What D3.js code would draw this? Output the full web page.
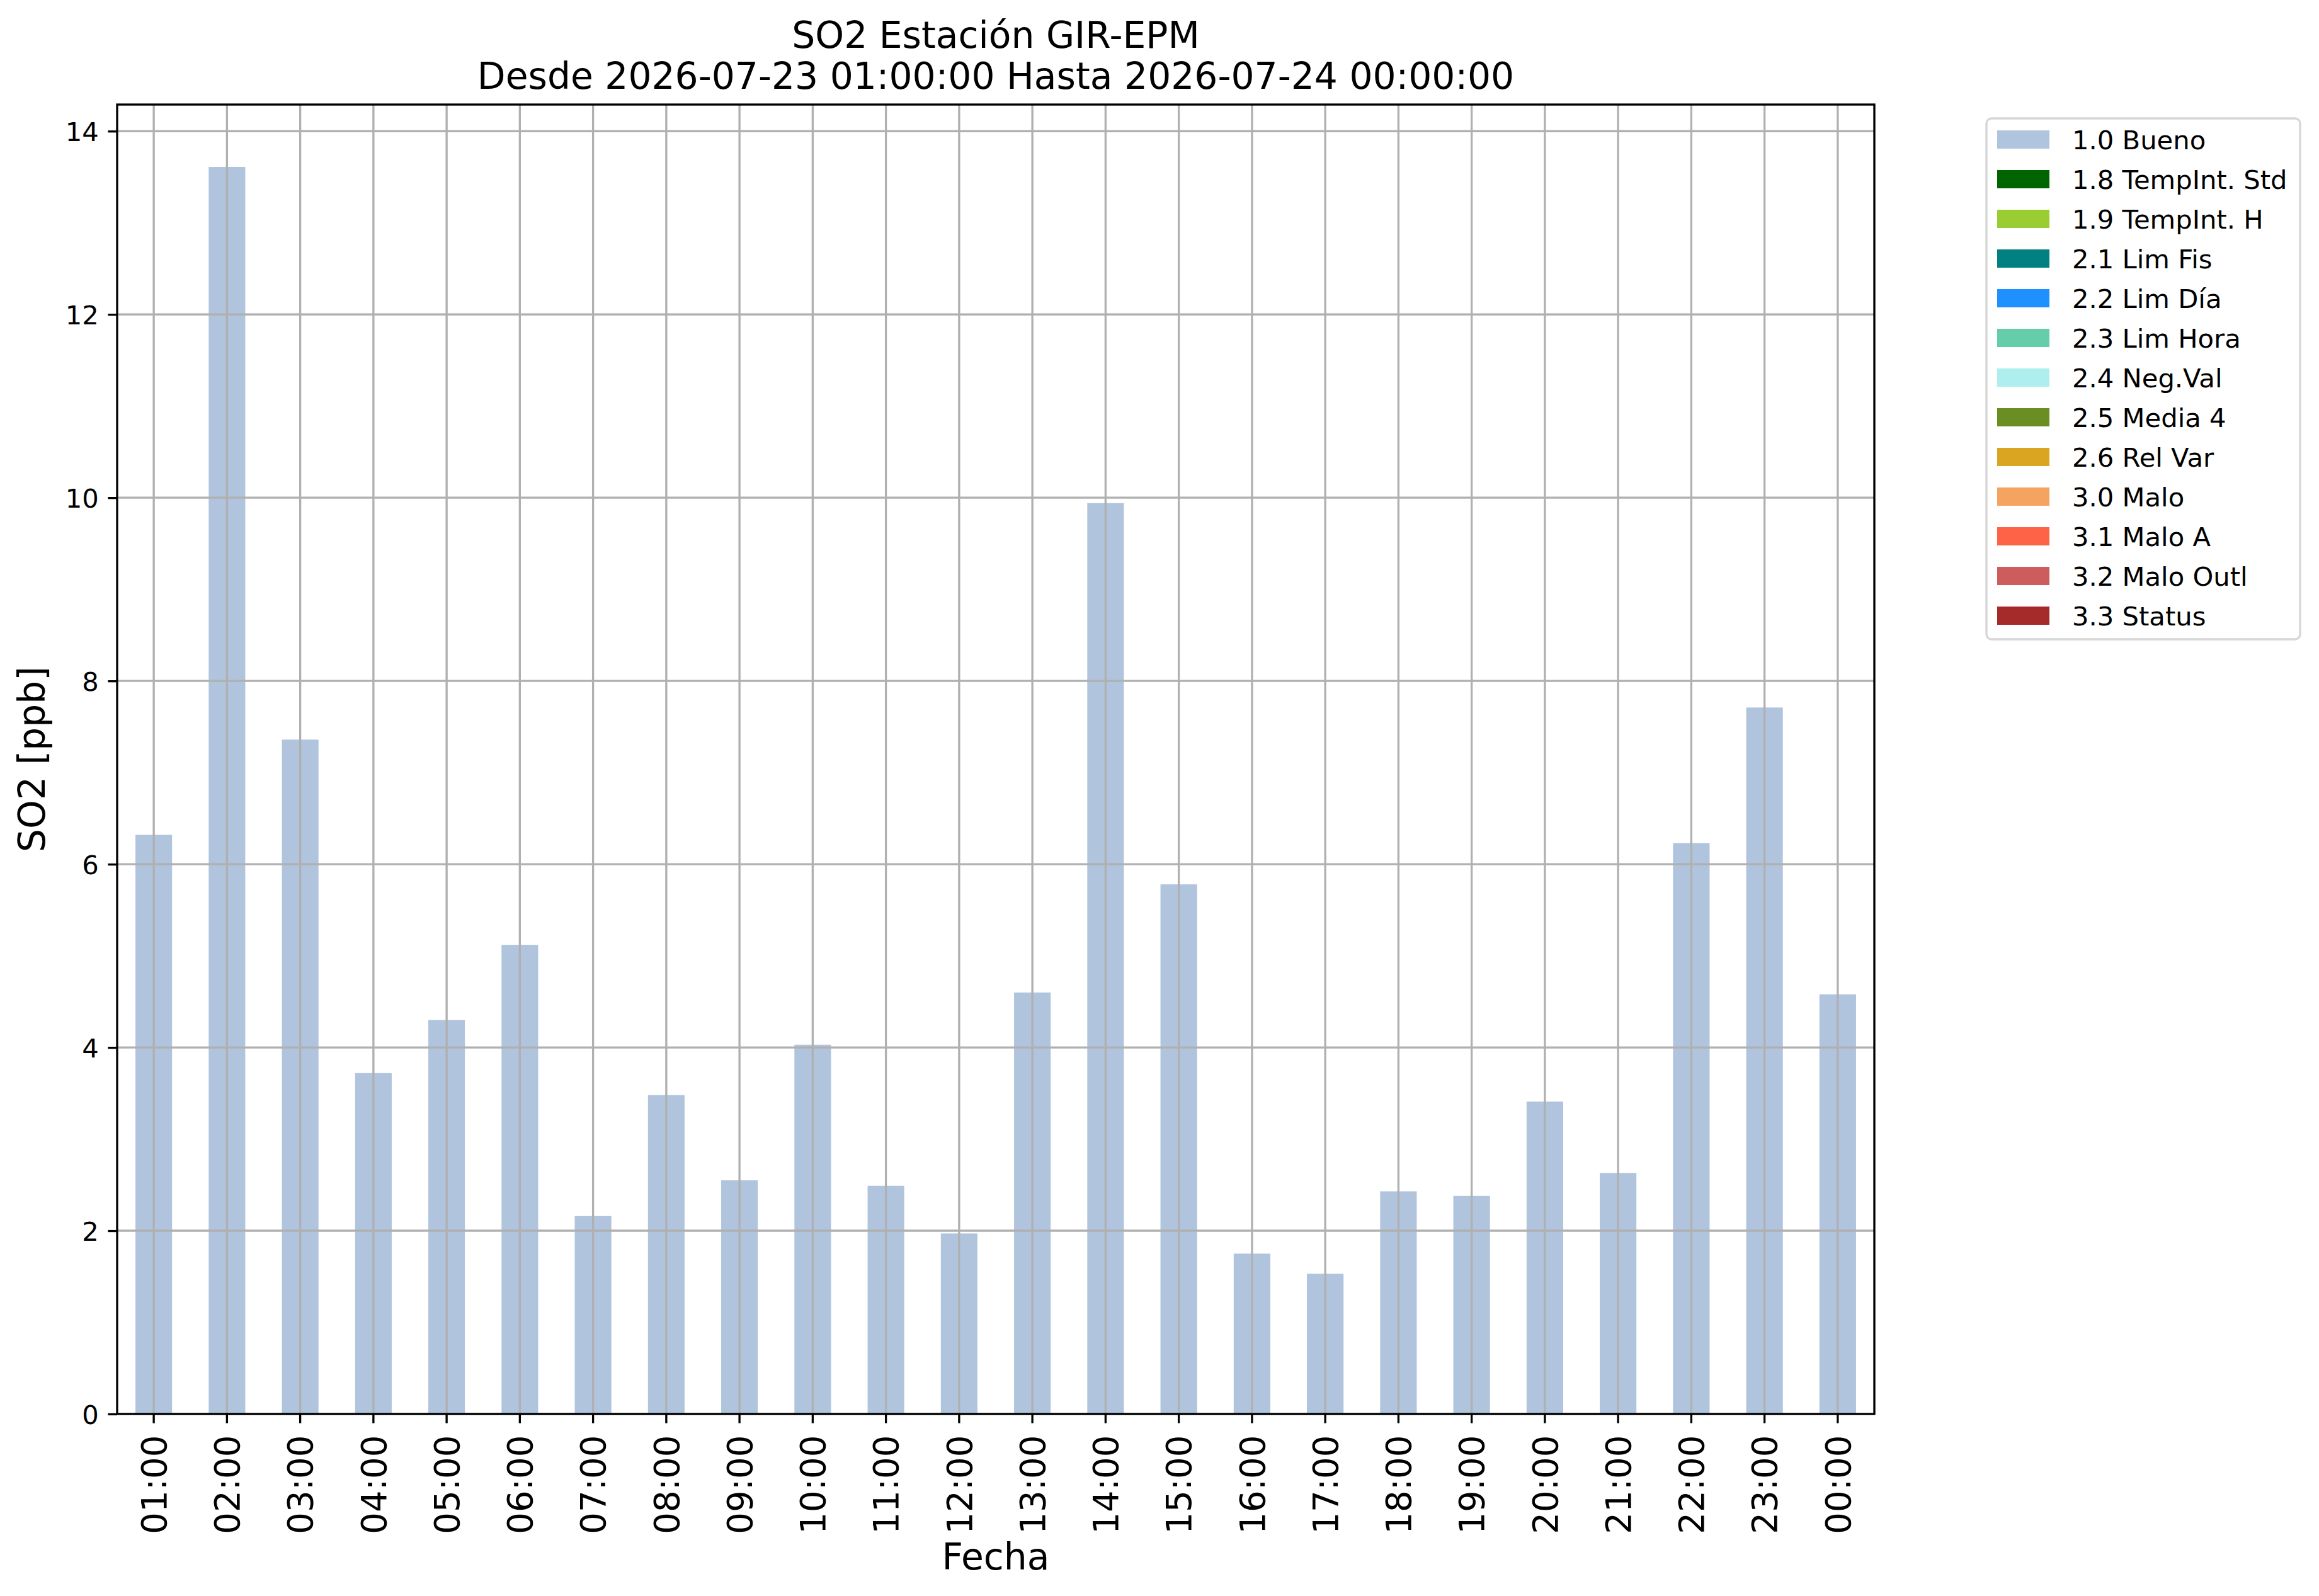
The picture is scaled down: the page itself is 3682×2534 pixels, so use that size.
<!DOCTYPE html>
<html>
<head>
<meta charset="utf-8">
<script src="https://cdn.jsdelivr.net/npm/d3@7"></script>
<style>
    body { margin: 0; background: #ffffff; }
    svg { display: block; font-family: "DejaVu Sans", sans-serif; }
</style>
</head>
<body>
<div id="chart"></div>
<script>
// hourly SO2 readings, one bar per hour
var hours = ["01:00", "02:00", "03:00", "04:00", "05:00", "06:00", "07:00", "08:00",
             "09:00", "10:00", "11:00", "12:00", "13:00", "14:00", "15:00", "16:00",
             "17:00", "18:00", "19:00", "20:00", "21:00", "22:00", "23:00", "00:00"];
var so2Values = [6.32, 13.61, 7.36, 3.72, 4.30, 5.12, 2.16, 3.48,
                 2.55, 4.03, 2.49, 1.97, 4.60, 9.94, 5.78, 1.75,
                 1.53, 2.43, 2.38, 3.41, 2.63, 6.23, 7.71, 4.58];
var yTicks = [0, 2, 4, 6, 8, 10, 12, 14];

// quality flags shown in the legend
var legendLabels = ["1.0 Bueno", "1.8 TempInt. Std", "1.9 TempInt. H", "2.1 Lim Fis",
                    "2.2 Lim Día", "2.3 Lim Hora", "2.4 Neg.Val", "2.5 Media 4",
                    "2.6 Rel Var", "3.0 Malo", "3.1 Malo A", "3.2 Malo Outl", "3.3 Status"];
var legendColors = ["#b0c4de", "#006400", "#9acd32", "#008080", "#1e90ff", "#66cdaa",
                    "#afeeee", "#6b8e23", "#daa520", "#f4a460", "#ff6347", "#cd5c5c", "#a52a2a"];

var titleLines = ["SO2 Estación GIR-EPM", "Desde 2026-07-23 01:00:00 Hasta 2026-07-24 00:00:00"];

var width = 3682, height = 2534;
var plot = {left: 186, right: 2976, top: 166, bottom: 2245};
var lw = 3.33;      // 0.8pt at 300dpi
var tickLen = 14.6;
var small = 41.7, big = 58.3, xTickSize = 54.5;
var gridColor = "#b0b0b0";

var svg = d3.select("#chart").append("svg")
    .attr("width", width)
    .attr("height", height);

var x = d3.scaleBand()
    .domain(hours)
    .range([plot.left, plot.right])
    .paddingInner(0.5)
    .paddingOuter(0.25);

var y = d3.scaleLinear()
    .domain([0, d3.max(so2Values) * 1.05])
    .range([plot.bottom, plot.top]);

var rows = hours.map(function(h, i) { return {hour: h, value: so2Values[i]}; });

//bars
svg.append("g")
    .selectAll("rect")
    .data(rows)
    .enter().append("rect")
    .attr("x", function(d) { return x(d.hour); })
    .attr("y", function(d) { return y(d.value); })
    .attr("width", x.bandwidth())
    .attr("height", function(d) { return y(0) - y(d.value); })
    .attr("fill", legendColors[0]);

//grid drawn over the bars like the original
var grid = svg.append("g").attr("stroke", gridColor).attr("stroke-width", lw);
grid.selectAll(".vgrid")
    .data(hours)
    .enter().append("line")
    .attr("x1", function(d) { return x(d) + x.bandwidth() / 2; })
    .attr("x2", function(d) { return x(d) + x.bandwidth() / 2; })
    .attr("y1", plot.top)
    .attr("y2", plot.bottom);
grid.selectAll(".hgrid")
    .data(yTicks)
    .enter().append("line")
    .attr("x1", plot.left)
    .attr("x2", plot.right)
    .attr("y1", function(d) { return y(d); })
    .attr("y2", function(d) { return y(d); });

//axes
var xAxis = svg.append("g")
    .attr("transform", "translate(0," + plot.bottom + ")")
    .call(d3.axisBottom(x).tickSize(tickLen).tickSizeOuter(0));
xAxis.select(".domain").remove();
xAxis.selectAll("line").attr("stroke", "#000").attr("stroke-width", lw);
xAxis.selectAll("text")
    .attr("font-size", xTickSize)
    .attr("font-family", "DejaVu Sans")
    .attr("fill", "#000")
    .attr("text-anchor", "end")
    .attr("x", 0)
    .attr("y", 0)
    .attr("dy", "0.36em")
    .attr("transform", "translate(0," + (tickLen + 19) + ") rotate(-90)");

var yAxis = svg.append("g")
    .attr("transform", "translate(" + plot.left + ",0)")
    .call(d3.axisLeft(y).tickValues(yTicks).tickFormat(d3.format("d"))
        .tickSize(tickLen).tickPadding(tickLen).tickSizeOuter(0));
yAxis.select(".domain").remove();
yAxis.selectAll("line").attr("stroke", "#000").attr("stroke-width", lw);
yAxis.selectAll("text")
    .attr("font-size", small)
    .attr("font-family", "DejaVu Sans")
    .attr("fill", "#000")
    .attr("dy", "0.36em");

//frame
svg.append("rect")
    .attr("x", plot.left)
    .attr("y", plot.top)
    .attr("width", plot.right - plot.left)
    .attr("height", plot.bottom - plot.top)
    .attr("fill", "none")
    .attr("stroke", "#000")
    .attr("stroke-width", lw);

//titles and labels
var midX = (plot.left + plot.right) / 2;
svg.selectAll(".title")
    .data(titleLines)
    .enter().append("text")
    .attr("x", midX)
    .attr("y", function(d, i) { return 76 + i * 65; })
    .attr("text-anchor", "middle")
    .attr("font-size", big)
    .text(function(d) { return d; });

svg.append("text")
    .attr("x", midX)
    .attr("y", 2492)
    .attr("text-anchor", "middle")
    .attr("font-size", big)
    .text("Fecha");

svg.append("text")
    .attr("transform", "translate(71," + ((plot.top + plot.bottom) / 2) + ") rotate(-90)")
    .attr("text-anchor", "middle")
    .attr("font-size", big)
    .text("SO2 [ppb]");

//legend
var legend = svg.append("g").attr("transform", "translate(3154,188)");
legend.append("rect")
    .attr("width", 498)
    .attr("height", 827)
    .attr("rx", 8)
    .attr("fill", "#fff")
    .attr("stroke", "#d6d6d6")
    .attr("stroke-width", lw);

var item = legend.selectAll(".item")
    .data(legendLabels)
    .enter().append("g")
    .attr("transform", function(d, i) { return "translate(0," + (19 + i * 63) + ")"; });
item.append("rect")
    .attr("x", 17)
    .attr("width", 83)
    .attr("height", 29)
    .attr("fill", function(d, i) { return legendColors[i]; });
item.append("text")
    .attr("x", 136)
    .attr("y", 14.5 + 15.5)
    .attr("font-size", small)
    .text(function(d) { return d; });
</script>
</body>
</html>
